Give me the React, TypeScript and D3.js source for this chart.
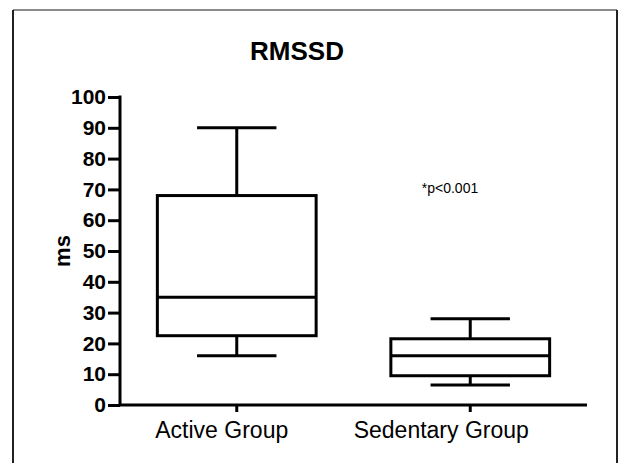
import { useEffect, useRef } from 'react';
import * as d3 from 'd3';

const groups = ['Active Group', 'Sedentary Group'];
const whiskerLow = [16, 6.5];
const q1 = [22.5, 9.5];
const medians = [35, 16];
const q3 = [68, 21.5];
const whiskerHigh = [90, 28];
const yTicks = [0, 10, 20, 30, 40, 50, 60, 70, 80, 90, 100];

const W = 619;
const H = 463;
const FONT = 'Arial, "Liberation Sans", sans-serif';

export default function App() {
  const svgRef = useRef<SVGSVGElement>(null);

  useEffect(() => {
    if (!svgRef.current) return;
    document.body.style.margin = '0';
    const svg = d3.select(svgRef.current);
    svg.selectAll('*').remove();

    svg.append('rect').attr('width', W).attr('height', H).attr('fill', '#fff');

    // frame
    svg.append('line').attr('x1', 13).attr('x2', 617).attr('y1', 10).attr('y2', 10)
      .attr('stroke', '#8a8a8a').attr('stroke-width', 2);
    svg.append('line').attr('x1', 13).attr('x2', 13).attr('y1', 10).attr('y2', H)
      .attr('stroke', '#222').attr('stroke-width', 2);
    svg.append('line').attr('x1', 617).attr('x2', 617).attr('y1', 10).attr('y2', H)
      .attr('stroke', '#222').attr('stroke-width', 2);

    const x = d3.scaleBand().domain(groups).range([120, 587]).padding(0);
    const y = d3.scaleLinear().domain([0, 100]).range([405, 97]);

    // y axis
    const yAxis = svg.append('g')
      .attr('transform', 'translate(120,0)')
      .call(d3.axisLeft(y).tickValues(yTicks).tickSize(12).tickPadding(2));
    yAxis.select('.domain').attr('stroke', '#000').attr('stroke-width', 3)
      .attr('d', `M0,${y(100) - 1.5}V${y(0)}`);
    yAxis.selectAll('.tick line').attr('stroke', '#000').attr('stroke-width', 3);
    yAxis.selectAll('.tick text')
      .attr('fill', '#000')
      .style('font-family', FONT)
      .style('font-size', '21px')
      .style('font-weight', 'bold');

    // x axis (labels sit a little left of their ticks, as in the original)
    const labelShift = [-15, -29];
    const xAxis = svg.append('g')
      .attr('transform', `translate(0,${y(0)})`)
      .call(d3.axisBottom(x).tickSize(7).tickPadding(10));
    xAxis.select('.domain').attr('stroke', '#000').attr('stroke-width', 3)
      .attr('d', 'M120,0H587');
    xAxis.selectAll('.tick line').attr('stroke', '#000').attr('stroke-width', 3);
    xAxis.selectAll('.tick text')
      .attr('fill', '#000')
      .attr('dx', (_d, i) => labelShift[i])
      .style('font-family', FONT)
      .style('font-size', '23px');

    // boxes
    const bw = x.bandwidth() * 0.68;
    const cw = bw / 2;
    const g = svg.append('g').attr('stroke', '#000').attr('stroke-width', 3).attr('fill', 'none');
    groups.forEach((name, i) => {
      const cx = (x(name) || 0) + x.bandwidth() / 2;
      g.append('line').attr('x1', cx).attr('x2', cx).attr('y1', y(whiskerHigh[i])).attr('y2', y(q3[i]));
      g.append('line').attr('x1', cx).attr('x2', cx).attr('y1', y(q1[i])).attr('y2', y(whiskerLow[i]));
      g.append('line').attr('x1', cx - cw / 2).attr('x2', cx + cw / 2)
        .attr('y1', y(whiskerHigh[i])).attr('y2', y(whiskerHigh[i]));
      g.append('line').attr('x1', cx - cw / 2).attr('x2', cx + cw / 2)
        .attr('y1', y(whiskerLow[i])).attr('y2', y(whiskerLow[i]));
      g.append('rect').attr('x', cx - bw / 2).attr('width', bw)
        .attr('y', y(q3[i])).attr('height', y(q1[i]) - y(q3[i]));
      g.append('line').attr('x1', cx - bw / 2).attr('x2', cx + bw / 2)
        .attr('y1', y(medians[i])).attr('y2', y(medians[i]));
    });

    // title and labels
    svg.append('text').attr('x', 297).attr('y', 60).attr('text-anchor', 'middle')
      .style('font-family', FONT).style('font-size', '26px').style('font-weight', 'bold')
      .text('RMSSD');
    svg.append('text')
      .attr('transform', `translate(70,${y(50)}) rotate(-90)`)
      .attr('text-anchor', 'middle')
      .style('font-family', FONT).style('font-size', '22px').style('font-weight', 'bold')
      .text('ms');
    svg.append('text').attr('x', 450).attr('y', 193).attr('text-anchor', 'middle')
      .style('font-family', FONT).style('font-size', '14px')
      .text('*p<0.001');
  }, []);

  return <svg ref={svgRef} width={W} height={H} style={{ display: 'block' }} />;
}
